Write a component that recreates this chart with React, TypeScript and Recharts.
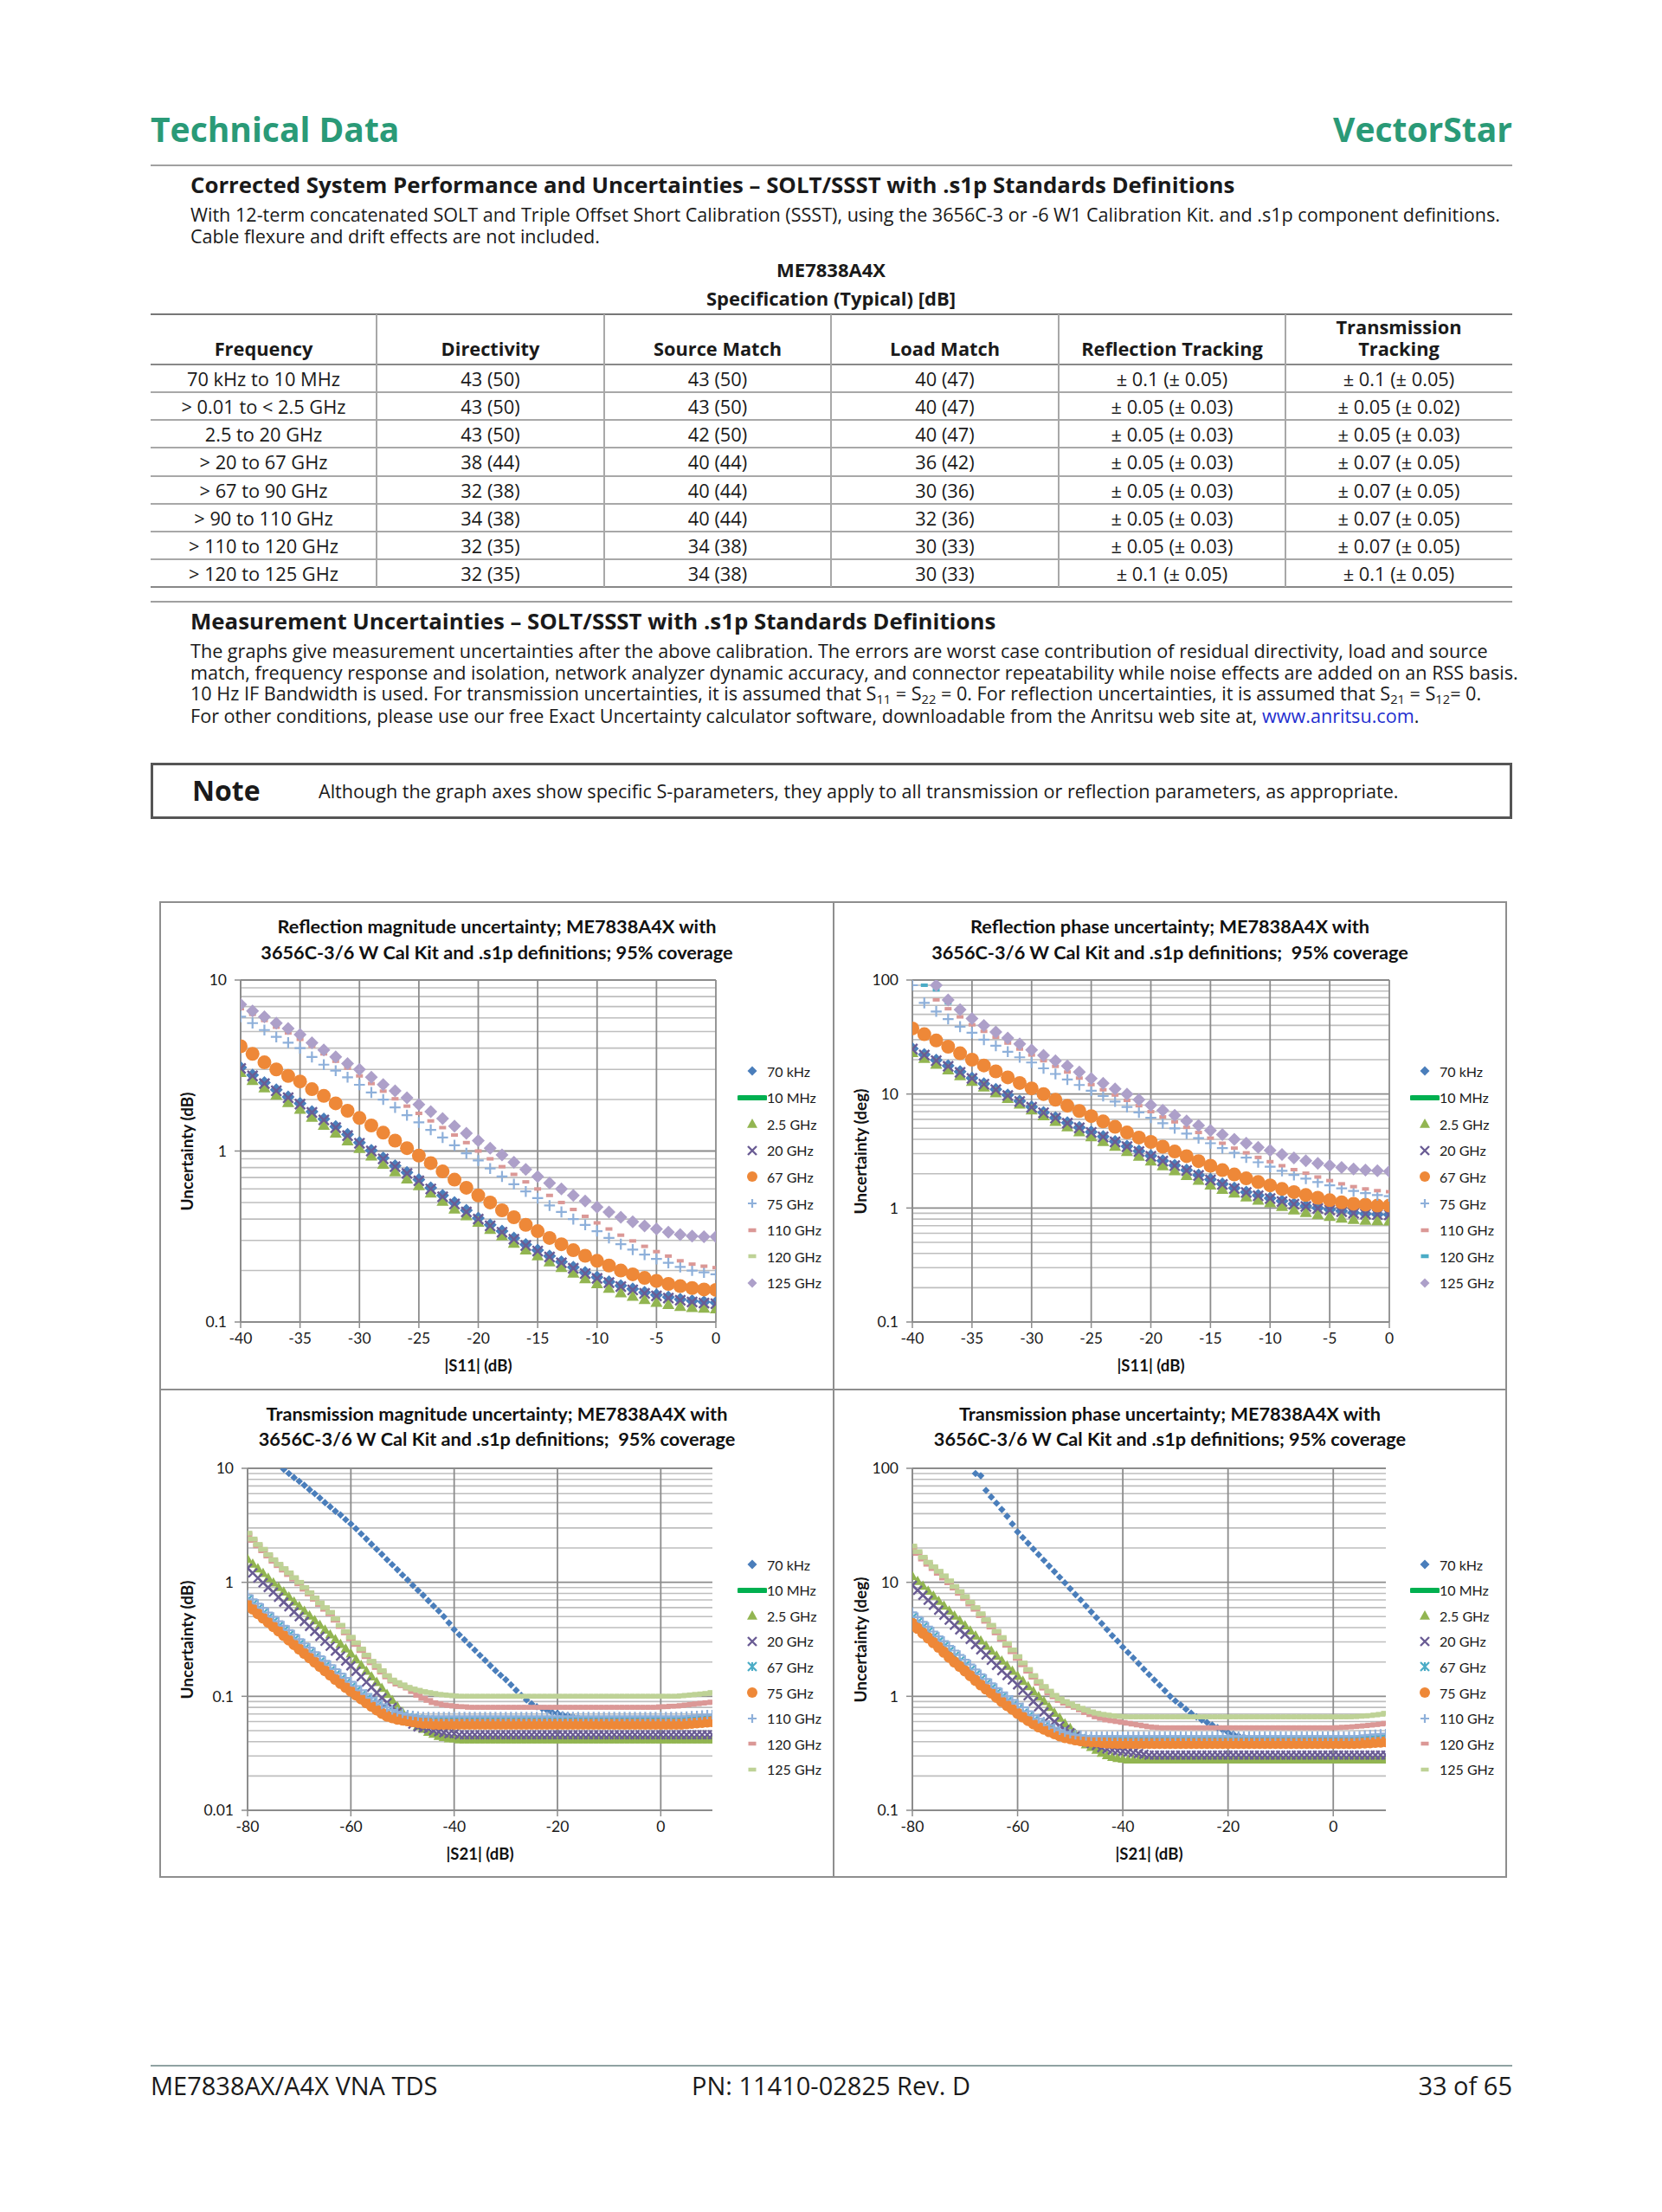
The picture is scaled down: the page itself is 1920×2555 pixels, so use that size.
import React from "react";
import { CartesianGrid, Scatter, ScatterChart, XAxis, YAxis } from "recharts";

// ---------- table data ----------
const freqRanges = [
  "70 kHz to 10 MHz",
  "> 0.01 to < 2.5 GHz",
  "2.5 to 20 GHz",
  "> 20 to 67 GHz",
  "> 67 to 90 GHz",
  "> 90 to 110 GHz",
  "> 110 to 120 GHz",
  "> 120 to 125 GHz",
];
const directivity = ["43 (50)", "43 (50)", "43 (50)", "38 (44)", "32 (38)", "34 (38)", "32 (35)", "32 (35)"];
const sourceMatch = ["43 (50)", "43 (50)", "42 (50)", "40 (44)", "40 (44)", "40 (44)", "34 (38)", "34 (38)"];
const loadMatch = ["40 (47)", "40 (47)", "40 (47)", "36 (42)", "30 (36)", "32 (36)", "30 (33)", "30 (33)"];
const reflTracking = [
  "± 0.1 (± 0.05)", "± 0.05 (± 0.03)", "± 0.05 (± 0.03)", "± 0.05 (± 0.03)",
  "± 0.05 (± 0.03)", "± 0.05 (± 0.03)", "± 0.05 (± 0.03)", "± 0.1 (± 0.05)",
];
const transTracking = [
  "± 0.1 (± 0.05)", "± 0.05 (± 0.02)", "± 0.05 (± 0.03)", "± 0.07 (± 0.05)",
  "± 0.07 (± 0.05)", "± 0.07 (± 0.05)", "± 0.07 (± 0.05)", "± 0.1 (± 0.05)",
];

// ---------- chart data ----------
const seriesNames = ["70 kHz", "10 MHz", "2.5 GHz", "20 GHz", "67 GHz", "75 GHz", "110 GHz", "120 GHz", "125 GHz"];
const transNames = ["70 kHz", "10 MHz", "2.5 GHz", "20 GHz", "67 GHz", "75 GHz", "110 GHz", "120 GHz", "125 GHz"];

const reflX = [
  -40, -39, -38, -37, -36, -35, -34, -33, -32, -31,
  -30, -29, -28, -27, -26, -25, -24, -23, -22, -21,
  -20, -19, -18, -17, -16, -15, -14, -13, -12, -11,
  -10, -9, -8, -7, -6, -5, -4, -3, -2, -1, 0,
];
const reflXTicks = [-40, -35, -30, -25, -20, -15, -10, -5, 0];

const transX = [
  -80, -79, -78, -77, -76, -75, -74, -73, -72, -71,
  -70, -69, -68, -67, -66, -65, -64, -63, -62, -61,
  -60, -59, -58, -57, -56, -55, -54, -53, -52, -51,
  -50, -49, -48, -47, -46, -45, -44, -43, -42, -41,
  -40, -39, -38, -37, -36, -35, -34, -33, -32, -31,
  -30, -29, -28, -27, -26, -25, -24, -23, -22, -21,
  -20, -19, -18, -17, -16, -15, -14, -13, -12, -11,
  -10, -9, -8, -7, -6, -5, -4, -3, -2, -1,
  0, 1, 2, 3, 4, 5, 6, 7, 8, 9,
  10,
];
const transXTicks = [-80, -60, -40, -20, 0];

// reflection magnitude (dB)
const rMag70k = [
  3.08, 2.78, 2.51, 2.28, 2.07, 1.9, 1.7, 1.54, 1.39, 1.25,
  1.12, 1.01, 0.91, 0.82, 0.75, 0.68, 0.61, 0.55, 0.5, 0.45,
  0.405, 0.37, 0.34, 0.31, 0.284, 0.263, 0.243, 0.225, 0.209, 0.195,
  0.183, 0.172, 0.163, 0.156, 0.149, 0.144, 0.14, 0.136, 0.133, 0.131, 0.13,
];
const rMag2g5 = [
  2.89, 2.6, 2.35, 2.13, 1.93, 1.76, 1.58, 1.42, 1.28, 1.15,
  1.04, 0.94, 0.84, 0.76, 0.69, 0.63, 0.57, 0.51, 0.46, 0.42,
  0.385, 0.35, 0.32, 0.29, 0.265, 0.245, 0.226, 0.209, 0.194, 0.18,
  0.168, 0.158, 0.149, 0.142, 0.136, 0.131, 0.127, 0.124, 0.122, 0.121, 0.12,
];
const rMag20g = [
  3.04, 2.75, 2.48, 2.25, 2.05, 1.88, 1.68, 1.52, 1.37, 1.23,
  1.11, 1.0, 0.9, 0.81, 0.74, 0.67, 0.6, 0.54, 0.49, 0.44,
  0.4, 0.365, 0.335, 0.305, 0.28, 0.26, 0.24, 0.222, 0.206, 0.192,
  0.18, 0.17, 0.161, 0.154, 0.147, 0.142, 0.138, 0.134, 0.131, 0.129, 0.128,
];
const rMag67g = [
  4.1, 3.7, 3.3, 3.0, 2.75, 2.55, 2.3, 2.1, 1.9, 1.72,
  1.56, 1.41, 1.28, 1.15, 1.04, 0.94, 0.85, 0.76, 0.68, 0.61,
  0.55, 0.5, 0.45, 0.41, 0.37, 0.34, 0.31, 0.285, 0.263, 0.244,
  0.228, 0.214, 0.2, 0.19, 0.181, 0.174, 0.167, 0.162, 0.158, 0.155, 0.154,
];
const rMag75g = [
  6.1, 5.6, 5.1, 4.65, 4.3, 4.0, 3.55, 3.2, 2.95, 2.7,
  2.44, 2.2, 2.0, 1.8, 1.62, 1.47, 1.33, 1.2, 1.08, 0.97,
  0.88, 0.79, 0.71, 0.64, 0.58, 0.53, 0.48, 0.44, 0.4, 0.37,
  0.34, 0.31, 0.285, 0.265, 0.248, 0.234, 0.222, 0.21, 0.2, 0.195, 0.19,
];
const rMag110g = [
  6.8, 6.3, 5.8, 5.3, 4.9, 4.5, 4.1, 3.7, 3.35, 3.05,
  2.75, 2.48, 2.24, 2.02, 1.83, 1.66, 1.5, 1.37, 1.24, 1.12,
  1.0, 0.9, 0.81, 0.73, 0.66, 0.6, 0.55, 0.5, 0.455, 0.415,
  0.38, 0.35, 0.322, 0.298, 0.277, 0.258, 0.243, 0.228, 0.218, 0.212, 0.208,
];
const rMag120g = [
  7.0, 6.45, 5.95, 5.5, 5.1, 4.7, 4.2, 3.8, 3.48, 3.18,
  2.93, 2.64, 2.4, 2.2, 2.0, 1.83, 1.66, 1.52, 1.37, 1.24,
  1.12, 1.02, 0.93, 0.84, 0.76, 0.695, 0.635, 0.585, 0.54, 0.5,
  0.46, 0.43, 0.4, 0.377, 0.357, 0.342, 0.328, 0.318, 0.311, 0.308, 0.308,
];
const rMag125g = [
  7.2, 6.6, 6.1, 5.6, 5.2, 4.8, 4.3, 3.9, 3.55, 3.25,
  3.0, 2.7, 2.45, 2.25, 2.05, 1.87, 1.7, 1.55, 1.4, 1.27,
  1.15, 1.04, 0.95, 0.86, 0.78, 0.71, 0.65, 0.6, 0.55, 0.51,
  0.47, 0.44, 0.41, 0.385, 0.365, 0.35, 0.335, 0.325, 0.318, 0.315, 0.315,
];

// reflection phase (deg)
const rPh70k = [
  25.0, 22.2, 19.8, 17.7, 15.7, 13.8, 12.3, 11.0, 9.8, 8.7,
  7.7, 6.9, 6.2, 5.6, 5.1, 4.65, 4.24, 3.84, 3.48, 3.16,
  2.87, 2.6, 2.37, 2.15, 1.95, 1.78, 1.63, 1.5, 1.38, 1.29,
  1.22, 1.15, 1.09, 1.04, 1.0, 0.97, 0.94, 0.91, 0.89, 0.88, 0.875,
];
const rPh2g5 = [
  23.3, 20.7, 18.4, 16.4, 14.6, 13.0, 11.6, 10.3, 9.2, 8.2,
  7.3, 6.5, 5.8, 5.2, 4.7, 4.25, 3.85, 3.5, 3.15, 2.86,
  2.6, 2.36, 2.14, 1.94, 1.76, 1.6, 1.47, 1.36, 1.26, 1.18,
  1.12, 1.04, 0.97, 0.92, 0.88, 0.85, 0.82, 0.8, 0.785, 0.78, 0.775,
];
const rPh20g = [
  24.8, 22.0, 19.6, 17.5, 15.5, 13.7, 12.2, 10.9, 9.7, 8.6,
  7.65, 6.85, 6.15, 5.55, 5.05, 4.6, 4.2, 3.8, 3.45, 3.13,
  2.84, 2.58, 2.35, 2.13, 1.93, 1.76, 1.61, 1.48, 1.37, 1.28,
  1.21, 1.14, 1.08, 1.03, 0.99, 0.96, 0.93, 0.9, 0.885, 0.875, 0.87,
];
const rPh67g = [
  37.6, 33.5, 29.5, 26.0, 22.8, 20.0, 17.8, 15.8, 14.0, 12.5,
  11.2, 10.0, 8.9, 7.9, 7.1, 6.4, 5.75, 5.15, 4.6, 4.15,
  3.8, 3.45, 3.13, 2.85, 2.58, 2.35, 2.15, 1.97, 1.82, 1.69,
  1.58, 1.47, 1.38, 1.3, 1.23, 1.17, 1.12, 1.09, 1.07, 1.05, 1.05,
];
const rPh75g = [
  90, 63, 53, 45.5, 39, 34.5, 30, 26.5, 23.5, 21,
  18.9, 16.8, 15.0, 13.4, 12.0, 10.7, 9.6, 8.6, 7.7, 6.9,
  6.2, 5.55, 5.0, 4.5, 4.1, 3.7, 3.35, 3.05, 2.77, 2.52,
  2.3, 2.12, 1.95, 1.81, 1.69, 1.58, 1.49, 1.41, 1.35, 1.3, 1.27,
];
const rPh110g = [
  null, null, 67, 56, 47.5, 40.5, 35.5, 31.5, 28, 24.8,
  22, 19.6, 17.5, 15.6, 13.8, 12.1, 10.9, 9.8, 8.8, 7.9,
  7.0, 6.3, 5.7, 5.1, 4.6, 4.1, 3.7, 3.35, 3.05, 2.78,
  2.55, 2.35, 2.17, 2.02, 1.87, 1.74, 1.63, 1.54, 1.47, 1.42, 1.39,
];
const rPh120g = [
  null, 90, 82, 63, 54, 45, 39.2, 34.3, 30.4, 27,
  23.9, 21.4, 19.2, 17.2, 15.3, 13.4, 12.2, 10.9, 9.8, 8.7,
  7.85, 7.05, 6.4, 5.7, 5.2, 4.7, 4.3, 3.92, 3.63, 3.33,
  3.13, 2.9, 2.7, 2.55, 2.42, 2.31, 2.22, 2.16, 2.11, 2.08, 2.06,
];
const rPh125g = [
  null, null, 90, 67, 55, 46, 40, 35, 31, 27.5,
  24.4, 21.8, 19.6, 17.6, 15.6, 13.7, 12.4, 11.1, 10.0, 8.9,
  8.0, 7.2, 6.5, 5.8, 5.3, 4.8, 4.4, 4.0, 3.7, 3.4,
  3.2, 2.95, 2.75, 2.6, 2.47, 2.36, 2.27, 2.2, 2.15, 2.12, 2.1,
];

// transmission magnitude (dB)
const tMag70k = [
  null, null, null, null, null, null, null, 9.8, 9.0, 8.3,
  7.7, 7.1, 6.5, 6.0, 5.5, 5.0, 4.6, 4.2, 3.9, 3.55,
  3.25, 2.95, 2.66, 2.4, 2.16, 1.95, 1.76, 1.58, 1.43, 1.29,
  1.16, 1.05, 0.94, 0.85, 0.77, 0.69, 0.62, 0.56, 0.5, 0.44,
  0.385, 0.347, 0.313, 0.282, 0.254, 0.229, 0.207, 0.186, 0.168, 0.153,
  0.14, 0.126, 0.113, 0.102, 0.093, 0.086, 0.081, 0.078, 0.075, 0.072,
  0.071, 0.069, 0.068, 0.066, 0.065, 0.063, 0.063, 0.063, 0.063, 0.063,
  0.063, 0.063, 0.063, 0.063, 0.063, 0.063, 0.063, 0.063, 0.063, 0.063,
  0.063, 0.063, 0.063, 0.063, 0.063, 0.063, 0.063, 0.063, 0.063, 0.063,
  0.063,
];
const tMag2g5 = [
  1.61, 1.46, 1.33, 1.21, 1.1, 1.0, 0.91, 0.83, 0.75, 0.68,
  0.62, 0.564, 0.513, 0.466, 0.424, 0.385, 0.35, 0.318, 0.289, 0.263,
  0.238, 0.212, 0.189, 0.168, 0.15, 0.134, 0.119, 0.105, 0.093, 0.082,
  0.073, 0.066, 0.06, 0.055, 0.052, 0.049, 0.047, 0.045, 0.044, 0.043,
  0.043, 0.042, 0.042, 0.042, 0.042, 0.042, 0.042, 0.042, 0.042, 0.042,
  0.042, 0.042, 0.042, 0.042, 0.042, 0.042, 0.042, 0.042, 0.042, 0.042,
  0.042, 0.042, 0.042, 0.042, 0.042, 0.042, 0.042, 0.042, 0.042, 0.042,
  0.042, 0.042, 0.042, 0.042, 0.042, 0.042, 0.042, 0.042, 0.042, 0.042,
  0.042, 0.042, 0.042, 0.042, 0.042, 0.042, 0.042, 0.042, 0.042, 0.042,
  0.042,
];
const tMag20g = [
  1.33, 1.21, 1.09, 0.99, 0.9, 0.82, 0.74, 0.67, 0.61, 0.55,
  0.5, 0.453, 0.41, 0.371, 0.336, 0.304, 0.275, 0.249, 0.225, 0.204,
  0.185, 0.166, 0.149, 0.133, 0.12, 0.107, 0.097, 0.088, 0.08, 0.073,
  0.066, 0.061, 0.057, 0.054, 0.053, 0.052, 0.05, 0.049, 0.048, 0.047,
  0.047, 0.046, 0.046, 0.046, 0.046, 0.046, 0.046, 0.046, 0.046, 0.046,
  0.046, 0.046, 0.046, 0.046, 0.046, 0.046, 0.046, 0.046, 0.046, 0.046,
  0.046, 0.046, 0.046, 0.046, 0.046, 0.046, 0.046, 0.046, 0.046, 0.046,
  0.046, 0.046, 0.046, 0.046, 0.046, 0.046, 0.046, 0.046, 0.046, 0.046,
  0.046, 0.046, 0.046, 0.046, 0.046, 0.046, 0.046, 0.046, 0.046, 0.046,
  0.046,
];
const tMag67g = [
  0.7, 0.64, 0.585, 0.535, 0.49, 0.45, 0.41, 0.375, 0.343, 0.313,
  0.286, 0.261, 0.239, 0.219, 0.2, 0.183, 0.168, 0.154, 0.141, 0.13,
  0.12, 0.111, 0.102, 0.094, 0.087, 0.081, 0.076, 0.072, 0.069, 0.067,
  0.066, 0.065, 0.064, 0.063, 0.062, 0.062, 0.061, 0.061, 0.061, 0.061,
  0.061, 0.061, 0.061, 0.061, 0.061, 0.061, 0.061, 0.061, 0.061, 0.061,
  0.061, 0.061, 0.061, 0.061, 0.061, 0.061, 0.061, 0.061, 0.061, 0.061,
  0.061, 0.061, 0.061, 0.061, 0.061, 0.061, 0.061, 0.061, 0.061, 0.061,
  0.061, 0.061, 0.061, 0.061, 0.061, 0.061, 0.061, 0.061, 0.061, 0.061,
  0.061, 0.061, 0.061, 0.061, 0.061, 0.061, 0.062, 0.062, 0.062, 0.063,
  0.063,
];
const tMag75g = [
  0.64, 0.584, 0.533, 0.487, 0.447, 0.41, 0.375, 0.342, 0.312, 0.285,
  0.26, 0.238, 0.218, 0.2, 0.183, 0.168, 0.154, 0.141, 0.13, 0.12,
  0.111, 0.103, 0.095, 0.088, 0.082, 0.076, 0.071, 0.067, 0.065, 0.063,
  0.062, 0.061, 0.06, 0.059, 0.058, 0.058, 0.057, 0.057, 0.057, 0.057,
  0.057, 0.057, 0.057, 0.057, 0.057, 0.057, 0.057, 0.057, 0.057, 0.057,
  0.057, 0.057, 0.057, 0.057, 0.057, 0.057, 0.057, 0.057, 0.057, 0.057,
  0.057, 0.057, 0.057, 0.057, 0.057, 0.057, 0.057, 0.057, 0.057, 0.057,
  0.057, 0.057, 0.057, 0.057, 0.057, 0.057, 0.057, 0.057, 0.057, 0.057,
  0.057, 0.057, 0.057, 0.057, 0.057, 0.0575, 0.058, 0.0585, 0.059, 0.0595,
  0.06,
];
const tMag110g = [
  0.775, 0.709, 0.649, 0.594, 0.543, 0.497, 0.455, 0.416, 0.381, 0.348,
  0.317, 0.291, 0.267, 0.244, 0.224, 0.205, 0.188, 0.173, 0.158, 0.145,
  0.134, 0.123, 0.113, 0.105, 0.097, 0.091, 0.085, 0.08, 0.076, 0.073,
  0.071, 0.069, 0.068, 0.067, 0.0665, 0.0665, 0.0665, 0.0665, 0.0665, 0.0665,
  0.0665, 0.0665, 0.0665, 0.0665, 0.0665, 0.0665, 0.0665, 0.0665, 0.0665, 0.0665,
  0.0665, 0.0665, 0.0665, 0.0665, 0.0665, 0.0665, 0.0665, 0.0665, 0.0665, 0.0665,
  0.0665, 0.0665, 0.0665, 0.0665, 0.0665, 0.0665, 0.0665, 0.0665, 0.0665, 0.0665,
  0.0665, 0.0665, 0.0665, 0.0665, 0.0665, 0.0665, 0.0665, 0.0665, 0.0665, 0.0665,
  0.0665, 0.0665, 0.0665, 0.0665, 0.0665, 0.067, 0.0675, 0.068, 0.0685, 0.069,
  0.069,
];
const tMag120g = [
  2.62, 2.33, 2.09, 1.89, 1.7, 1.53, 1.4, 1.28, 1.17, 1.07,
  0.97, 0.87, 0.79, 0.71, 0.64, 0.58, 0.53, 0.465, 0.41, 0.36,
  0.32, 0.285, 0.252, 0.223, 0.197, 0.179, 0.163, 0.148, 0.136, 0.128,
  0.124, 0.118, 0.11, 0.102, 0.096, 0.092, 0.088, 0.086, 0.084, 0.083,
  0.082, 0.081, 0.081, 0.08, 0.08, 0.08, 0.08, 0.08, 0.08, 0.08,
  0.08, 0.08, 0.08, 0.08, 0.08, 0.08, 0.08, 0.08, 0.08, 0.08,
  0.08, 0.08, 0.08, 0.08, 0.08, 0.08, 0.08, 0.08, 0.08, 0.08,
  0.08, 0.08, 0.08, 0.08, 0.08, 0.08, 0.08, 0.08, 0.08, 0.08,
  0.081, 0.081, 0.082, 0.082, 0.083, 0.084, 0.085, 0.086, 0.087, 0.088,
  0.089,
];
const tMag125g = [
  2.7, 2.4, 2.15, 1.95, 1.75, 1.58, 1.44, 1.32, 1.21, 1.1,
  1.0, 0.9, 0.81, 0.73, 0.66, 0.6, 0.545, 0.48, 0.42, 0.37,
  0.33, 0.295, 0.26, 0.23, 0.203, 0.185, 0.168, 0.152, 0.139, 0.132,
  0.126, 0.12, 0.116, 0.113, 0.11, 0.108, 0.106, 0.104, 0.103, 0.102,
  0.101, 0.1, 0.1, 0.1, 0.1, 0.1, 0.1, 0.1, 0.1, 0.1,
  0.1, 0.1, 0.1, 0.1, 0.1, 0.1, 0.1, 0.1, 0.1, 0.1,
  0.1, 0.1, 0.1, 0.1, 0.1, 0.1, 0.1, 0.1, 0.1, 0.1,
  0.1, 0.1, 0.1, 0.1, 0.1, 0.1, 0.1, 0.1, 0.1, 0.1,
  0.1, 0.1, 0.1, 0.1, 0.101, 0.102, 0.103, 0.104, 0.105, 0.106,
  0.108,
];

// transmission phase (deg)
const tPh70k = [
  null, null, null, null, null, null, null, null, null, null,
  null, null, 90, 86, 64, 56, 49.5, 43.5, 38, 32.5,
  27.7, 24.7, 22, 19.6, 17.5, 15.6, 13.9, 12.4, 11.1, 9.9,
  8.8, 7.8, 7.0, 6.2, 5.5, 4.9, 4.35, 3.85, 3.4, 3.05,
  2.7, 2.42, 2.17, 1.94, 1.73, 1.55, 1.39, 1.25, 1.12, 1.0,
  0.91, 0.84, 0.77, 0.71, 0.66, 0.62, 0.59, 0.56, 0.53, 0.505,
  0.48, 0.465, 0.45, 0.44, 0.43, 0.42, 0.42, 0.42, 0.42, 0.42,
  0.42, 0.42, 0.42, 0.42, 0.42, 0.42, 0.42, 0.42, 0.42, 0.42,
  0.42, 0.42, 0.42, 0.42, 0.42, 0.42, 0.42, 0.42, 0.42, 0.42,
  0.42,
];
const tPh2g5 = [
  11.4, 10.3, 9.35, 8.45, 7.65, 6.9, 6.25, 5.65, 5.12, 4.64,
  4.2, 3.79, 3.42, 3.09, 2.79, 2.52, 2.28, 2.06, 1.86, 1.68,
  1.52, 1.37, 1.23, 1.11, 1.0, 0.91, 0.81, 0.72, 0.65, 0.58,
  0.53, 0.47, 0.42, 0.38, 0.36, 0.34, 0.32, 0.305, 0.295, 0.288,
  0.284, 0.28, 0.28, 0.28, 0.28, 0.28, 0.28, 0.28, 0.28, 0.28,
  0.28, 0.28, 0.28, 0.28, 0.28, 0.28, 0.28, 0.28, 0.28, 0.28,
  0.28, 0.28, 0.28, 0.28, 0.28, 0.28, 0.28, 0.28, 0.28, 0.28,
  0.28, 0.28, 0.28, 0.28, 0.28, 0.28, 0.28, 0.28, 0.28, 0.28,
  0.28, 0.28, 0.28, 0.28, 0.28, 0.28, 0.28, 0.28, 0.28, 0.28,
  0.28,
];
const tPh20g = [
  9.4, 8.5, 7.7, 6.95, 6.3, 5.7, 5.15, 4.65, 4.2, 3.83,
  3.5, 3.15, 2.84, 2.56, 2.3, 2.07, 1.87, 1.68, 1.52, 1.39,
  1.26, 1.13, 1.01, 0.9, 0.81, 0.73, 0.66, 0.6, 0.55, 0.51,
  0.48, 0.45, 0.42, 0.4, 0.385, 0.37, 0.355, 0.345, 0.338, 0.333,
  0.33, 0.325, 0.32, 0.315, 0.31, 0.305, 0.305, 0.305, 0.305, 0.305,
  0.305, 0.305, 0.305, 0.305, 0.305, 0.305, 0.305, 0.305, 0.305, 0.305,
  0.305, 0.305, 0.305, 0.305, 0.305, 0.305, 0.305, 0.305, 0.305, 0.305,
  0.305, 0.305, 0.305, 0.305, 0.305, 0.305, 0.305, 0.305, 0.305, 0.305,
  0.305, 0.305, 0.305, 0.305, 0.305, 0.305, 0.305, 0.305, 0.305, 0.305,
  0.305,
];
const tPh67g = [
  4.9, 4.45, 4.04, 3.67, 3.33, 3.02, 2.74, 2.48, 2.25, 2.04,
  1.86, 1.69, 1.54, 1.4, 1.28, 1.17, 1.07, 0.98, 0.9, 0.83,
  0.77, 0.71, 0.66, 0.61, 0.57, 0.54, 0.51, 0.485, 0.465, 0.45,
  0.44, 0.43, 0.425, 0.42, 0.415, 0.412, 0.41, 0.41, 0.41, 0.41,
  0.41, 0.41, 0.41, 0.41, 0.41, 0.41, 0.41, 0.41, 0.41, 0.41,
  0.41, 0.41, 0.41, 0.41, 0.41, 0.41, 0.41, 0.41, 0.41, 0.41,
  0.41, 0.41, 0.41, 0.41, 0.41, 0.41, 0.41, 0.41, 0.41, 0.41,
  0.41, 0.41, 0.41, 0.41, 0.41, 0.41, 0.41, 0.41, 0.41, 0.41,
  0.41, 0.41, 0.41, 0.41, 0.41, 0.412, 0.414, 0.416, 0.418, 0.42,
  0.42,
];
const tPh75g = [
  4.36, 3.95, 3.58, 3.25, 2.96, 2.7, 2.44, 2.2, 2.0, 1.83,
  1.67, 1.52, 1.38, 1.26, 1.16, 1.07, 0.98, 0.9, 0.83, 0.77,
  0.71, 0.66, 0.615, 0.575, 0.54, 0.515, 0.49, 0.47, 0.45, 0.435,
  0.425, 0.415, 0.408, 0.403, 0.4, 0.398, 0.394, 0.39, 0.388, 0.387,
  0.386, 0.386, 0.386, 0.386, 0.386, 0.386, 0.386, 0.386, 0.386, 0.386,
  0.386, 0.386, 0.386, 0.386, 0.386, 0.386, 0.386, 0.386, 0.386, 0.386,
  0.386, 0.386, 0.386, 0.386, 0.386, 0.386, 0.386, 0.386, 0.386, 0.386,
  0.386, 0.386, 0.386, 0.386, 0.386, 0.386, 0.386, 0.386, 0.386, 0.386,
  0.386, 0.386, 0.386, 0.386, 0.386, 0.388, 0.39, 0.392, 0.395, 0.397,
  0.4,
];
const tPh110g = [
  5.45, 4.95, 4.5, 4.08, 3.7, 3.35, 3.05, 2.77, 2.52, 2.3,
  2.09, 1.9, 1.72, 1.56, 1.42, 1.3, 1.18, 1.08, 1.0, 0.93,
  0.86, 0.8, 0.74, 0.68, 0.635, 0.6, 0.56, 0.53, 0.505, 0.485,
  0.47, 0.46, 0.455, 0.45, 0.447, 0.447, 0.447, 0.447, 0.447, 0.447,
  0.447, 0.447, 0.447, 0.447, 0.447, 0.447, 0.447, 0.447, 0.447, 0.447,
  0.447, 0.447, 0.447, 0.447, 0.447, 0.447, 0.447, 0.447, 0.447, 0.447,
  0.447, 0.447, 0.447, 0.447, 0.447, 0.447, 0.447, 0.447, 0.447, 0.447,
  0.447, 0.447, 0.447, 0.447, 0.447, 0.447, 0.447, 0.447, 0.447, 0.447,
  0.447, 0.447, 0.447, 0.447, 0.447, 0.45, 0.455, 0.46, 0.463, 0.467,
  0.47,
];
const tPh120g = [
  20.0, 17.9, 16.0, 14.4, 13.2, 12.0, 10.9, 9.9, 8.9, 8.0,
  7.2, 6.45, 5.8, 5.1, 4.55, 4.05, 3.6, 3.17, 2.8, 2.46,
  2.15, 1.89, 1.66, 1.47, 1.3, 1.18, 1.07, 0.99, 0.92, 0.87,
  0.83, 0.8, 0.76, 0.72, 0.69, 0.66, 0.64, 0.62, 0.61, 0.6,
  0.59, 0.58, 0.57, 0.56, 0.55, 0.54, 0.535, 0.53, 0.53, 0.53,
  0.53, 0.53, 0.53, 0.53, 0.53, 0.53, 0.53, 0.53, 0.53, 0.53,
  0.53, 0.53, 0.53, 0.53, 0.53, 0.53, 0.53, 0.53, 0.53, 0.53,
  0.53, 0.53, 0.53, 0.53, 0.53, 0.53, 0.53, 0.53, 0.53, 0.53,
  0.53, 0.532, 0.535, 0.538, 0.542, 0.547, 0.552, 0.558, 0.564, 0.571,
  0.58,
];
const tPh125g = [
  20.8, 18.6, 16.6, 15.0, 13.7, 12.5, 11.4, 10.3, 9.2, 8.3,
  7.5, 6.7, 6.0, 5.3, 4.7, 4.2, 3.72, 3.28, 2.9, 2.55,
  2.23, 1.96, 1.72, 1.52, 1.35, 1.22, 1.11, 1.02, 0.95, 0.9,
  0.86, 0.82, 0.785, 0.755, 0.73, 0.71, 0.695, 0.685, 0.675, 0.668,
  0.665, 0.66, 0.66, 0.66, 0.66, 0.66, 0.66, 0.66, 0.66, 0.66,
  0.66, 0.66, 0.66, 0.66, 0.66, 0.66, 0.66, 0.66, 0.66, 0.66,
  0.66, 0.66, 0.66, 0.66, 0.66, 0.66, 0.66, 0.66, 0.66, 0.66,
  0.66, 0.66, 0.66, 0.66, 0.66, 0.66, 0.66, 0.66, 0.66, 0.66,
  0.66, 0.66, 0.66, 0.66, 0.663, 0.667, 0.672, 0.678, 0.686, 0.695,
  0.71,
];

const logTicks01to10 = [0.1, 1, 10];
const logTicks01to100 = [0.1, 1, 10, 100];
const logTicks001to10 = [0.01, 0.1, 1, 10];
const minor01to10 = [0.2, 0.3, 0.4, 0.5, 0.6, 0.7, 0.8, 0.9, 2, 3, 4, 5, 6, 7, 8, 9];
const minor01to100 = [...minor01to10, 20, 30, 40, 50, 60, 70, 80, 90];
const minor001to10 = [0.02, 0.03, 0.04, 0.05, 0.06, 0.07, 0.08, 0.09, ...minor01to10];

// ---------- markers ----------
type Mk = "diamond" | "line" | "triangle" | "x" | "star" | "circle" | "plus" | "dash";
type Ser = { name: string; ys: (number | null)[] | null; mk: Mk; color: string; s: number };

const C = {
  blue: "#4A7EBB",
  green: "#00B050",
  olive: "#92B551",
  purple: "#6A5C94",
  teal: "#4BACC6",
  orange: "#EE8838",
  lblue: "#8EB0DA",
  pink: "#DB9896",
  lgreen: "#BED296",
  lavender: "#ADA0C9",
};

function mark(mk: Mk, cx: number, cy: number, s: number, color: string) {
  switch (mk) {
    case "diamond":
      return <polygon points={`${cx},${cy - s} ${cx + s},${cy} ${cx},${cy + s} ${cx - s},${cy}`} fill={color} />;
    case "triangle":
      return <polygon points={`${cx},${cy - s} ${cx + s},${cy + s * 0.8} ${cx - s},${cy + s * 0.8}`} fill={color} />;
    case "circle":
      return <circle cx={cx} cy={cy} r={s} fill={color} />;
    case "x":
      return (
        <path d={`M${cx - s},${cy - s}L${cx + s},${cy + s}M${cx - s},${cy + s}L${cx + s},${cy - s}`}
          stroke={color} strokeWidth={2.4} fill="none" />
      );
    case "star":
      return (
        <path d={`M${cx - s},${cy - s}L${cx + s},${cy + s}M${cx - s},${cy + s}L${cx + s},${cy - s}M${cx},${cy - s}V${cy + s}`}
          stroke={color} strokeWidth={2.2} fill="none" />
      );
    case "plus":
      return (
        <path d={`M${cx - s},${cy}H${cx + s}M${cx},${cy - s}V${cy + s}`} stroke={color} strokeWidth={2.2} fill="none" />
      );
    case "dash":
      return <rect x={cx - s} y={cy - s * 0.5} width={s * 2} height={s} fill={color} />;
    case "line":
      return <line x1={cx - 15} y1={cy} x2={cx + 15} y2={cy} stroke={color} strokeWidth={6} strokeLinecap="round" />;
  }
}

const pts = (xs: number[], ys: (number | null)[]) =>
  xs.map((x, i) => ({ x, y: ys[i] })).filter((p) => p.y != null);

const reflMagSeries: Ser[] = [
  { name: seriesNames[0], ys: rMag70k, mk: "diamond", color: C.blue, s: 7.5 },
  { name: seriesNames[1], ys: null, mk: "line", color: C.green, s: 0 },
  { name: seriesNames[2], ys: rMag2g5, mk: "triangle", color: C.olive, s: 7 },
  { name: seriesNames[3], ys: rMag20g, mk: "x", color: C.purple, s: 5.8 },
  { name: seriesNames[4], ys: rMag67g, mk: "circle", color: C.orange, s: 8 },
  { name: seriesNames[5], ys: rMag75g, mk: "plus", color: C.lblue, s: 6.3 },
  { name: seriesNames[6], ys: rMag110g, mk: "dash", color: C.pink, s: 4 },
  { name: seriesNames[7], ys: rMag120g, mk: "dash", color: C.lgreen, s: 4 },
  { name: seriesNames[8], ys: rMag125g, mk: "diamond", color: C.lavender, s: 7.5 },
];
const reflPhSeries: Ser[] = [
  { name: seriesNames[0], ys: rPh70k, mk: "diamond", color: C.blue, s: 7.5 },
  { name: seriesNames[1], ys: null, mk: "line", color: C.green, s: 0 },
  { name: seriesNames[2], ys: rPh2g5, mk: "triangle", color: C.olive, s: 7 },
  { name: seriesNames[3], ys: rPh20g, mk: "x", color: C.purple, s: 5.8 },
  { name: seriesNames[4], ys: rPh67g, mk: "circle", color: C.orange, s: 8 },
  { name: seriesNames[5], ys: rPh75g, mk: "plus", color: C.lblue, s: 6.3 },
  { name: seriesNames[6], ys: rPh110g, mk: "dash", color: C.pink, s: 4 },
  { name: seriesNames[7], ys: rPh120g, mk: "dash", color: C.teal, s: 4 },
  { name: seriesNames[8], ys: rPh125g, mk: "diamond", color: C.lavender, s: 7.5 },
];
const transMagSeries: Ser[] = [
  { name: transNames[0], ys: tMag70k, mk: "diamond", color: C.blue, s: 4.3 },
  { name: transNames[1], ys: null, mk: "line", color: C.green, s: 0 },
  { name: transNames[2], ys: tMag2g5, mk: "triangle", color: C.olive, s: 6 },
  { name: transNames[3], ys: tMag20g, mk: "x", color: C.purple, s: 5 },
  { name: transNames[4], ys: tMag67g, mk: "star", color: C.teal, s: 5 },
  { name: transNames[5], ys: tMag75g, mk: "circle", color: C.orange, s: 6.5 },
  { name: transNames[6], ys: tMag110g, mk: "plus", color: C.lblue, s: 5.5 },
  { name: transNames[7], ys: tMag120g, mk: "dash", color: C.pink, s: 5.5 },
  { name: transNames[8], ys: tMag125g, mk: "dash", color: C.lgreen, s: 5.5 },
];
const transPhSeries: Ser[] = [
  { name: transNames[0], ys: tPh70k, mk: "diamond", color: C.blue, s: 4.3 },
  { name: transNames[1], ys: null, mk: "line", color: C.green, s: 0 },
  { name: transNames[2], ys: tPh2g5, mk: "triangle", color: C.olive, s: 6 },
  { name: transNames[3], ys: tPh20g, mk: "x", color: C.purple, s: 5 },
  { name: transNames[4], ys: tPh67g, mk: "star", color: C.teal, s: 5 },
  { name: transNames[5], ys: tPh75g, mk: "circle", color: C.orange, s: 6.5 },
  { name: transNames[6], ys: tPh110g, mk: "plus", color: C.lblue, s: 5.5 },
  { name: transNames[7], ys: tPh120g, mk: "dash", color: C.pink, s: 5.5 },
  { name: transNames[8], ys: tPh125g, mk: "dash", color: C.lgreen, s: 5.5 },
];

// ---------- chart panel ----------
type Rect = { x: number; y: number; w: number; h: number };
type PanelProps = {
  cell: Rect;
  plot: { l: number; t: number; r: number; b: number };
  title: [string, string];
  titleY: [number, number];
  xs: number[];
  xDomain: [number, number];
  xTicks: number[];
  yDomain: [number, number];
  yTicks: number[];
  yMinor: number[];
  yLabel: string;
  xLabel: string;
  series: Ser[];
  legendX: number;
  legendY0: number;
  legendDy: number;
};

const CHART_FONT = "Lato, 'Open Sans', sans-serif";
const GRID_MAJOR = "#8C8C8C";
const GRID_MINOR = "#BEBEBE";
const YW = 50;
const XH = 30;

function Panel(p: PanelProps) {
  const { cell, plot } = p;
  const margin = {
    top: plot.t - cell.y,
    right: cell.x + cell.w - plot.r,
    bottom: cell.y + cell.h - plot.b - XH,
    left: plot.l - cell.x - YW,
  };
  const cxTitle = cell.x + cell.w / 2;
  const yTitleX = cell.x + 30;
  return (
    <>
      {p.title.map((t, i) => (
        <div key={i} style={{
          position: "absolute", left: cxTitle - 400, width: 800, top: p.titleY[i] - 14, height: 28, lineHeight: "28px",
          textAlign: "center", fontFamily: CHART_FONT, fontWeight: 700, fontSize: 21.7, color: "#111", whiteSpace: "pre",
        }}>{t}</div>
      ))}
      <div style={{ position: "absolute", left: cell.x, top: cell.y }}>
        <ScatterChart width={cell.w} height={cell.h} margin={margin}>
          <CartesianGrid horizontalValues={p.yMinor} vertical={false} stroke={GRID_MINOR} strokeWidth={1.6} />
          <CartesianGrid horizontalValues={p.yTicks} verticalValues={p.xTicks} stroke={GRID_MAJOR} strokeWidth={1.8} />
          <XAxis type="number" dataKey="x" domain={p.xDomain} ticks={p.xTicks} allowDataOverflow interval={0}
            height={XH} axisLine={{ stroke: GRID_MAJOR, strokeWidth: 1.8 }} tickLine={{ stroke: GRID_MAJOR, strokeWidth: 1.5 }}
            tickSize={7} tickMargin={6} tick={{ fill: "#1a1a1a", fontSize: 17.5, fontFamily: CHART_FONT }} />
          <YAxis type="number" dataKey="y" scale="log" domain={p.yDomain} ticks={p.yTicks} allowDataOverflow interval={0}
            width={YW} axisLine={{ stroke: GRID_MAJOR, strokeWidth: 1.8 }} tickLine={{ stroke: GRID_MAJOR, strokeWidth: 1.5 }}
            tickSize={7} tickMargin={9} tick={{ fill: "#1a1a1a", fontSize: 17.5, fontFamily: CHART_FONT }}
            tickFormatter={(v: number) => String(v)} />
          {p.series.filter((s) => s.ys).map((s) => (
            <Scatter key={s.name} name={s.name} data={pts(p.xs, s.ys as (number | null)[])} isAnimationActive={false}
              shape={(sp: any) => mark(s.mk, sp.cx, sp.cy, s.s, s.color)} />
          ))}
        </ScatterChart>
      </div>
      {/* y axis title */}
      <div style={{
        position: "absolute", left: yTitleX - 150, top: (plot.t + plot.b) / 2 - 13, width: 300, height: 26,
        lineHeight: "26px", textAlign: "center", transform: "rotate(-90deg)", fontFamily: CHART_FONT, fontWeight: 700,
        fontSize: 19, color: "#111",
      }}>{p.yLabel}</div>
      {/* x axis title */}
      <div style={{
        position: "absolute", left: (plot.l + plot.r) / 2 - 150, top: plot.b + 50 - 13, width: 300, height: 26,
        lineHeight: "26px", textAlign: "center", fontFamily: CHART_FONT, fontWeight: 700, fontSize: 18.5, color: "#111",
      }}>{p.xLabel}</div>
      {/* legend */}
      {p.series.map((s, i) => {
        const y = p.legendY0 + i * p.legendDy;
        const legS = s.mk === "circle" ? 6 : s.mk === "dash" ? 4.5 : s.mk === "diamond" ? 5.5 : s.mk === "triangle" ? 6 : 5;
        return (
          <div key={s.name} style={{ position: "absolute", left: p.legendX - 17, top: y - 12, height: 24, display: "flex", alignItems: "center" }}>
            <svg width={34} height={24} style={{ display: "block" }}>
              {mark(s.mk, 17, 12, legS, s.color)}
            </svg>
            <span style={{ fontFamily: CHART_FONT, fontSize: 16, color: "#1a1a1a", whiteSpace: "nowrap" }}>{s.name}</span>
          </div>
        );
      })}
    </>
  );
}

// ---------- page ----------
const PAGE_FONT = "'Open Sans', 'Noto Sans', sans-serif";

function Txt(props: { x: number; y: number; size: number; bold?: boolean; align?: "left" | "center" | "right"; color?: string; children: React.ReactNode; w?: number }) {
  const { x, y, size, bold, align = "left", color = "#1a1a1a", children, w = 1560 } = props;
  const left = align === "left" ? x : align === "center" ? x - w / 2 : x - w;
  const lh = Math.round(size * 1.15);
  return (
    <div style={{
      position: "absolute", left, top: y - lh / 2, width: w, height: lh, lineHeight: `${lh}px`,
      fontSize: size, fontWeight: bold ? 700 : 400, color, textAlign: align, whiteSpace: "nowrap", fontFamily: PAGE_FONT,
    }}>{children}</div>
  );
}

const HLine = ({ y, x1 = 174, x2 = 1747, t = 2, c = "#999" }: { y: number; x1?: number; x2?: number; t?: number; c?: string }) => (
  <div style={{ position: "absolute", left: x1, top: y - t / 2, width: x2 - x1, height: t, background: c }} />
);
const VLine = ({ x, y1, y2, t = 1, c = "#999" }: { x: number; y1: number; y2: number; t?: number; c?: string }) => (
  <div style={{ position: "absolute", left: x - t / 2, top: y1, width: t, height: y2 - y1, background: c }} />
);

const colEdges = [174, 435, 698, 960, 1223, 1485, 1747];
const rowLines = [421, 453, 485, 517, 550, 582, 614, 646, 678];
const sub = (t: string) => <span style={{ fontSize: "0.68em", position: "relative", top: "0.28em", lineHeight: 0 }}>{t}</span>;

const BODY = 21.6;
const TABLE = 21.8;

export default function App() {
  const cols = [freqRanges, directivity, sourceMatch, loadMatch, reflTracking, transTracking];
  const headers = ["Frequency", "Directivity", "Source Match", "Load Match", "Reflection Tracking", "Tracking"];
  return (
    <div style={{ position: "absolute", left: 0, top: 0, width: 1920, height: 2555, background: "#fff", overflow: "hidden", fontFamily: PAGE_FONT }}>
      <Txt x={174} y={148} size={39} bold color="#2A9A77">Technical Data</Txt>
      <Txt x={1747} y={148} size={39} bold color="#2A9A77" align="right">VectorStar</Txt>
      <HLine y={191} t={2} c="#A0A0A0" />

      <Txt x={220} y={213} size={25.8} bold>Corrected System Performance and Uncertainties – SOLT/SSST with .s1p Standards Definitions</Txt>
      <Txt x={220} y={247} size={BODY}>With 12-term concatenated SOLT and Triple Offset Short Calibration (SSST), using the 3656C-3 or -6 W1 Calibration Kit. and .s1p component definitions.</Txt>
      <Txt x={220} y={272} size={BODY}>Cable flexure and drift effects are not included.</Txt>

      <Txt x={960} y={311} size={22} bold align="center">ME7838A4X</Txt>
      <Txt x={960} y={344} size={22} bold align="center">Specification (Typical) [dB]</Txt>

      {/* table */}
      <HLine y={363} t={2.5} c="#777" />
      {rowLines.map((y, i) => (
        <HLine key={y} y={y} t={i === 0 || i === rowLines.length - 1 ? 2.5 : 1.2} c={i === 0 || i === rowLines.length - 1 ? "#888" : "#A8A8A8"} />
      ))}
      {colEdges.slice(1, -1).map((x) => <VLine key={x} x={x} y1={363} y2={678} t={1.2} c="#A8A8A8" />)}
      {headers.map((h, i) => (
        <Txt key={h} x={(colEdges[i] + colEdges[i + 1]) / 2} y={402} size={TABLE} bold align="center" w={260}>{h}</Txt>
      ))}
      <Txt x={(colEdges[5] + colEdges[6]) / 2} y={377} size={TABLE} bold align="center" w={260}>Transmission</Txt>
      {cols.map((col, ci) =>
        col.map((v, ri) => (
          <Txt key={`${ci}-${ri}`} x={(colEdges[ci] + colEdges[ci + 1]) / 2} y={(rowLines[ri] + rowLines[ri + 1]) / 2} size={TABLE} align="center" w={260}>{v}</Txt>
        ))
      )}

      <HLine y={695} t={2} c="#A0A0A0" />
      <Txt x={220} y={717} size={25.8} bold>Measurement Uncertainties – SOLT/SSST with .s1p Standards Definitions</Txt>
      <Txt x={220} y={751} size={BODY}>The graphs give measurement uncertainties after the above calibration. The errors are worst case contribution of residual directivity, load and source</Txt>
      <Txt x={220} y={776} size={BODY}>match, frequency response and isolation, network analyzer dynamic accuracy, and connector repeatability while noise effects are added on an RSS basis.</Txt>
      <Txt x={220} y={800} size={BODY}>10 Hz IF Bandwidth is used. For transmission uncertainties, it is assumed that S{sub("11")} = S{sub("22")} = 0. For reflection uncertainties, it is assumed that S{sub("21")} = S{sub("12")}= 0.</Txt>
      <Txt x={220} y={826} size={BODY}>For other conditions, please use our free Exact Uncertainty calculator software, downloadable from the Anritsu web site at, <span style={{ color: "#1F2FD0" }}>www.anritsu.com</span>.</Txt>

      {/* note box */}
      <div style={{ position: "absolute", left: 174, top: 881, width: 1573, height: 65, boxSizing: "border-box", border: "3px solid #555" }} />
      <Txt x={222} y={912} size={32} bold>Note</Txt>
      <Txt x={368} y={913} size={BODY}>Although the graph axes show specific S-parameters, they apply to all transmission or reflection parameters, as appropriate.</Txt>

      {/* chart frame */}
      <div style={{ position: "absolute", left: 184, top: 1041, width: 1557, height: 1128, boxSizing: "border-box", border: "2px solid #8E8E8E" }} />
      <VLine x={963} y1={1041} y2={2169} t={2} c="#8E8E8E" />
      <HLine y={1605} x1={184} x2={1741} t={2} c="#8E8E8E" />

      <Panel
        cell={{ x: 186, y: 1043, w: 776, h: 561 }}
        plot={{ l: 278, t: 1132, r: 827, b: 1527 }}
        title={["Reflection magnitude uncertainty; ME7838A4X with", "3656C-3/6 W Cal Kit and .s1p definitions; 95% coverage"]}
        titleY={[1070, 1100]}
        xs={reflX} xDomain={[-40, 0]} xTicks={reflXTicks}
        yDomain={[0.1, 10]} yTicks={logTicks01to10} yMinor={minor01to10}
        yLabel="Uncertainty (dB)" xLabel="|S11| (dB)"
        series={reflMagSeries} legendX={869} legendY0={1237} legendDy={30.6}
      />
      <Panel
        cell={{ x: 964, y: 1043, w: 775, h: 561 }}
        plot={{ l: 1054, t: 1132, r: 1605, b: 1527 }}
        title={["Reflection phase uncertainty; ME7838A4X with", "3656C-3/6 W Cal Kit and .s1p definitions;  95% coverage"]}
        titleY={[1070, 1100]}
        xs={reflX} xDomain={[-40, 0]} xTicks={reflXTicks}
        yDomain={[0.1, 100]} yTicks={logTicks01to100} yMinor={minor01to100}
        yLabel="Uncertainty (deg)" xLabel="|S11| (dB)"
        series={reflPhSeries} legendX={1646} legendY0={1237} legendDy={30.6}
      />
      <Panel
        cell={{ x: 186, y: 1606, w: 776, h: 561 }}
        plot={{ l: 286, t: 1696, r: 823, b: 2091 }}
        title={["Transmission magnitude uncertainty; ME7838A4X with", "3656C-3/6 W Cal Kit and .s1p definitions;  95% coverage"]}
        titleY={[1633, 1662]}
        xs={transX} xDomain={[-80, 10]} xTicks={transXTicks}
        yDomain={[0.01, 10]} yTicks={logTicks001to10} yMinor={minor001to10}
        yLabel="Uncertainty (dB)" xLabel="|S21| (dB)"
        series={transMagSeries} legendX={869} legendY0={1807} legendDy={29.6}
      />
      <Panel
        cell={{ x: 964, y: 1606, w: 775, h: 561 }}
        plot={{ l: 1054, t: 1696, r: 1601, b: 2091 }}
        title={["Transmission phase uncertainty; ME7838A4X with", "3656C-3/6 W Cal Kit and .s1p definitions; 95% coverage"]}
        titleY={[1633, 1662]}
        xs={transX} xDomain={[-80, 10]} xTicks={transXTicks}
        yDomain={[0.1, 100]} yTicks={logTicks01to100} yMinor={minor01to100}
        yLabel="Uncertainty (deg)" xLabel="|S21| (dB)"
        series={transPhSeries} legendX={1646} legendY0={1807} legendDy={29.6}
      />

      {/* footer */}
      <HLine y={2386} t={2} c="#8FA2A2" />
      <Txt x={174} y={2408} size={29}>ME7838AX/A4X VNA TDS</Txt>
      <Txt x={960} y={2408} size={29} align="center">PN: 11410-02825 Rev. D</Txt>
      <Txt x={1747} y={2408} size={29} align="right">33 of 65</Txt>
    </div>
  );
}
